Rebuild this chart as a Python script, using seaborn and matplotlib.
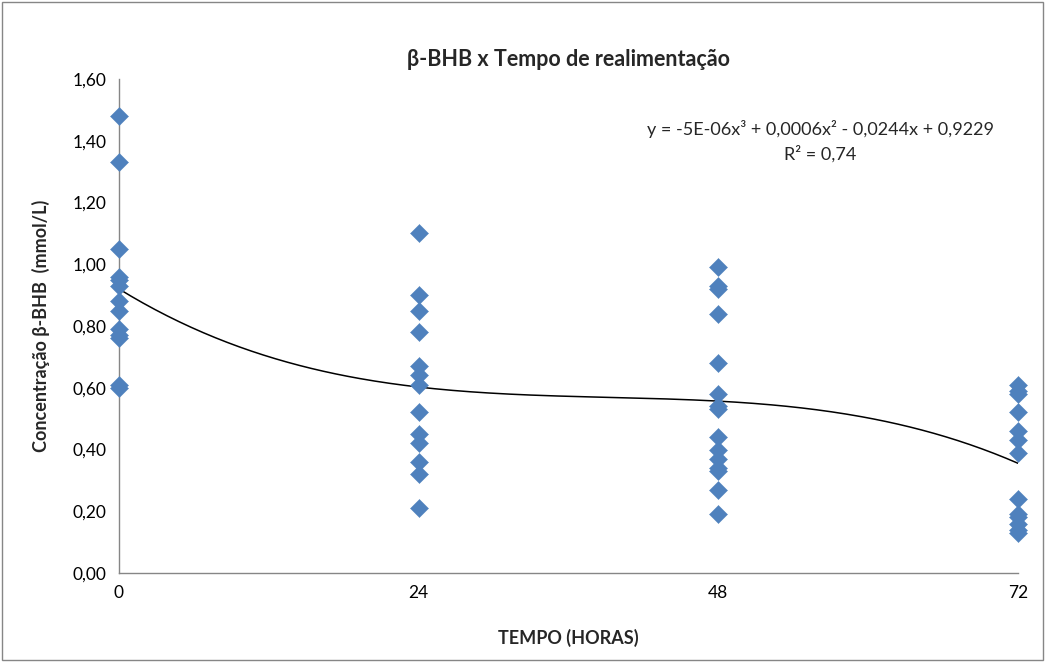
import numpy as np
import pandas as pd
import matplotlib
matplotlib.use("Agg")
import matplotlib.pyplot as plt
import seaborn as sns

# Measured beta-hydroxybutyrate concentrations (mmol/L) at each refeeding time (hours)
bhb_0h = [1.48, 1.33, 1.05, 0.96, 0.95, 0.93, 0.88, 0.85, 0.79, 0.77, 0.76, 0.61, 0.60]
bhb_24h = [1.10, 0.90, 0.85, 0.78, 0.67, 0.64, 0.61, 0.52, 0.45, 0.42, 0.36, 0.32, 0.21]
bhb_48h = [0.99, 0.93, 0.92, 0.84, 0.68, 0.58, 0.54, 0.53, 0.44, 0.40, 0.37, 0.34, 0.33,
           0.27, 0.19]
bhb_72h = [0.61, 0.59, 0.58, 0.52, 0.46, 0.43, 0.39, 0.24, 0.19, 0.18, 0.16, 0.14, 0.13]

times = [0, 24, 48, 72]
x_ticks = [0, 24, 48, 72]
y_ticks = [0.0, 0.2, 0.4, 0.6, 0.8, 1.0, 1.2, 1.4, 1.6]

title = "β-BHB x Tempo de realimentação"
x_label = "TEMPO (HORAS)"
y_label = "Concentração β-BHB  (mmol/L)"
equation = "y = -5E-06x³ + 0,0006x² - 0,0244x + 0,9229\nR² = 0,74"

df = pd.concat([
    pd.DataFrame({"tempo": t, "bhb": v})
    for t, v in zip(times, [bhb_0h, bhb_24h, bhb_48h, bhb_72h])
], ignore_index=True)

# Cubic polynomial trend fitted to the measurements
coef = np.polyfit(df["tempo"], df["bhb"], 3)
xs = np.linspace(0, 72, 300)
trend = pd.DataFrame({"tempo": xs, "bhb": np.polyval(coef, xs)})

sns.set_theme(style="white")
plt.rcParams["font.family"] = ["Lato", "DejaVu Sans"]

fig = plt.figure(figsize=(10.45, 6.62), dpi=100)
ax = fig.add_axes([119 / 1045, 1 - 573 / 662, (1018 - 119) / 1045, (573 - 79) / 662])

sns.lineplot(data=trend, x="tempo", y="bhb", ax=ax, color="black", linewidth=1.1,
             zorder=2)
sns.scatterplot(data=df, x="tempo", y="bhb", ax=ax, marker="D", s=85,
                color="#4F81BD", edgecolor="#4F81BD", linewidth=0.3,
                clip_on=False, zorder=3)

ax.set_xlim(0, 72)
ax.set_ylim(0, 1.6)
ax.set_xticks(x_ticks)
ax.set_xticklabels([str(t) for t in x_ticks], fontsize=12.5)
ax.set_yticks(y_ticks)
ax.set_yticklabels([f"{v:.2f}".replace(".", ",") for v in y_ticks], fontsize=12.5)
ax.tick_params(axis="both", direction="out", length=5, width=1, color="#868686",
               pad=4, colors="black")
ax.tick_params(axis="both", color="#868686")
for side in ["top", "right"]:
    ax.spines[side].set_visible(False)
for side in ["left", "bottom"]:
    ax.spines[side].set_color("#868686")
    ax.spines[side].set_linewidth(1)

ax.set_xlabel(x_label, fontsize=13, fontweight="bold", labelpad=20)
ax.set_ylabel(y_label, fontsize=13, fontweight="bold", labelpad=16)
ax.set_title(title, fontsize=15.5, fontweight="bold", pad=9)

ax.text(0.78, 0.874, equation, transform=ax.transAxes, ha="center", va="center",
        multialignment="center", fontsize=13, linespacing=1.55)

# Chart frame around the whole figure
fig.patches.append(plt.Rectangle((0.002, 0.003), 0.996, 0.994, transform=fig.transFigure,
                                 fill=False, edgecolor="#868686", linewidth=1))

fig.savefig("out.png", dpi=100)
